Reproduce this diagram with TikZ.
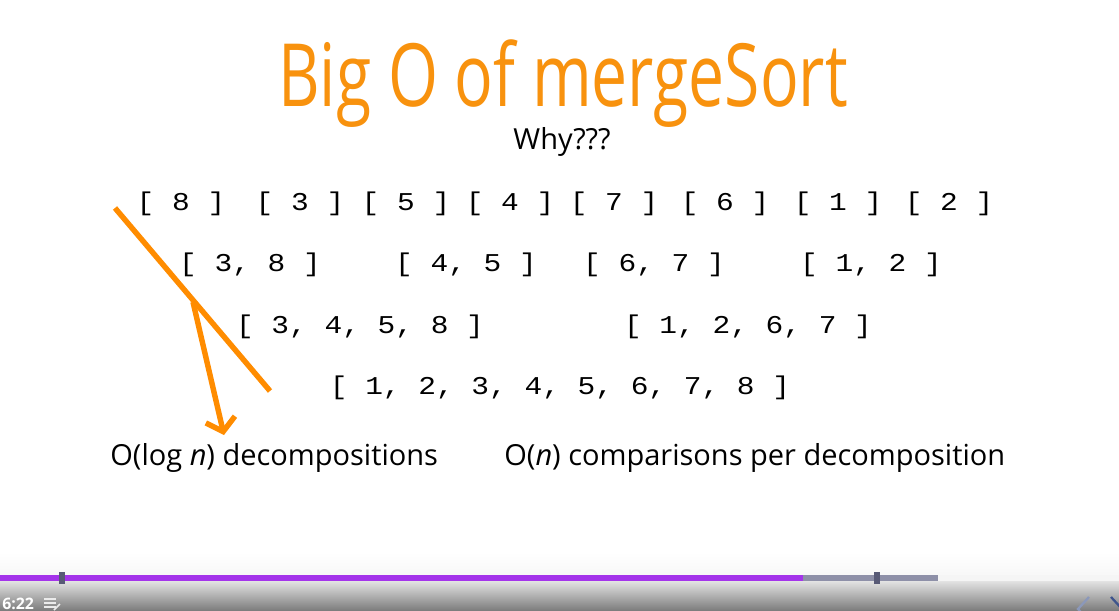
\documentclass[tikz,border=0pt]{standalone}
\usepackage{fontspec}
\setmainfont{Open Sans}
\newfontfamily\arrfont[FakeStretch=1.15]{Liberation Mono}
\newfontfamily\titlefont{Open Sans}
\usepackage{graphicx}
\usepackage{tikz}
\usetikzlibrary{arrows.meta}
\usepackage{xcolor}
\definecolor{titleorange}{RGB}{248,146,14}
\definecolor{penorange}{RGB}{255,140,0}
\definecolor{barpurple}{RGB}{164,52,234}
\definecolor{bargray}{RGB}{142,144,168}
\definecolor{barmark}{RGB}{88,90,118}
\definecolor{chevblue}{RGB}{62,84,140}

\begin{document}
\begin{tikzpicture}[x=0.02cm,y=-0.02cm,
    arr/.style={font=\arrfont\fontsize{14.6}{16}\selectfont,anchor=base,inner sep=0pt},
    txt/.style={font=\fontsize{16.5}{19}\selectfont,anchor=base,inner sep=0pt},
    pen/.style={penorange,line width=3.1pt}]
    \useasboundingbox (0,0) rectangle (1119,611);
    \fill[white] (0,0) rectangle (1119,611);
    % Titulo
    \node[anchor=base,inner sep=0pt,text=titleorange] (title) at (563,107)
      {\resizebox{324pt}{38pt}{\titlefont Big O of mergeSort}};
    \node[txt] (why) at (562,150) {Why???};
    % Filas del mergeSort
    \foreach \cx/\v [count=\i] in {181/8,300/3,406/5,510/4,614/7,725/6,838/1,949/2}{
      \node[arr] (leaf\i) at (\cx,211) {[ \v{} ]};
    }
    \foreach \cx/\v [count=\i] in {250/{3, 8},466/{4, 5},654/{6, 7},871/{1, 2}}{
      \node[arr] (pair\i) at (\cx,272) {[ \v{} ]};
    }
    \foreach \cx/\v [count=\i] in {360/{3, 4, 5, 8},748/{1, 2, 6, 7}}{
      \node[arr] (quad\i) at (\cx,334) {[ \v{} ]};
    }
    \node[arr] (full) at (560,394) {[ 1, 2, 3, 4, 5, 6, 7, 8 ]};
    % Trazos a mano
    \coordinate (penA) at (115,208);
    \coordinate (penB) at (270,391);
    \coordinate (shaft) at (193,302);
    \coordinate (tip) at (224,435);
    \draw[pen] (penA) -- (penB);
    \draw[pen,-{Straight Barb[length=7pt,width=17pt]}] (shaft) -- (tip);
    % Costes
    \node[txt,anchor=base west] (logn) at (110,465) {O(log \textit{n}) decompositions};
    \node[txt,anchor=base west] (lin) at (504,465) {O(\textit{n}) comparisons per decomposition};
    % Barra del reproductor
    \shade[top color=white,bottom color=black!3] (0,552) rectangle (1119,575);
    \shade[top color=black!11,bottom color=black!52] (0,581) rectangle (1119,611);
    \fill[barpurple] (0,575) rectangle (803,581);
    \fill[bargray] (803,575) rectangle (938,581);
    \fill[black!4] (938,575) rectangle (1119,581);
    \foreach \mx in {59,874}{
      \fill[barmark] (\mx,572) rectangle ++(6,12);
    }
    \node[anchor=base west,inner sep=0pt,white,font=\bfseries\fontsize{9}{11}\selectfont] (time) at (2,609) {6:22};
    \foreach \ly in {599,603,607}{
      \draw[black!8,line width=0.8pt] (44,\ly) -- ++(12,0);
    }
    \draw[black!8,line width=1pt] (54,610) -- (60,604);
    \draw[chevblue!60,line width=1.3pt] (1089,597) -- (1078,609) -- (1089,621);
    \draw[chevblue,line width=1.3pt] (1111,597) -- (1122,609) -- (1111,621);
\end{tikzpicture}
\end{document}
